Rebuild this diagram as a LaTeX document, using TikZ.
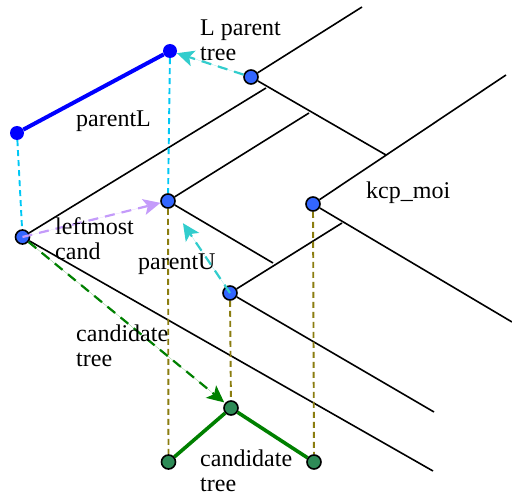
\documentclass[tikz,border=0pt]{standalone}
\usepackage{fontspec}
\setmainfont{Liberation Serif}
\usetikzlibrary{arrows.meta,backgrounds}
\definecolor{nodeblue}{RGB}{51,102,255}
\definecolor{nodegreen}{RGB}{46,139,87}
\definecolor{dkgreen}{RGB}{0,128,0}
\definecolor{olivedash}{RGB}{139,125,16}
\definecolor{skydash}{RGB}{0,200,245}
\definecolor{turq}{RGB}{50,205,205}
\definecolor{lilac}{RGB}{196,155,250}
\tikzset{
  bluept/.style={circle,fill=nodeblue,draw=black,line width=1.6pt,minimum size=14pt,inner sep=0pt},
  greenpt/.style={circle,fill=nodegreen,draw=black,line width=1.6pt,minimum size=14pt,inner sep=0pt},
  endpt/.style={circle,fill=blue,minimum size=14pt,inner sep=0pt},
  edge/.style={draw=black,line width=1.6pt},
  thickblue/.style={draw=blue,line width=4pt},
  thickgreen/.style={draw=dkgreen,line width=3.6pt},
  guide/.style={line width=1.9pt,dash pattern=on 6pt off 4pt},
  sky/.style={guide,draw=skydash},
  olv/.style={guide,draw=olivedash},
  hop/.style={line width=2.2pt,dash pattern=on 10pt off 7pt,-{Stealth[length=17pt,width=16pt,inset=4pt]}},
  lab/.style={anchor=base west,inner sep=0pt,font=\fontsize{24}{25}\selectfont}
}
\begin{document}
\begin{tikzpicture}[x=1pt,y=-1pt]
\useasboundingbox (0,0) rectangle (512,495);
% free ends
\coordinate (a1) at (362,7);
\coordinate (a2) at (386,155);
\coordinate (k1) at (506,75);
\coordinate (k2) at (512,322);
\coordinate (l1) at (266,88);
\coordinate (l2) at (433,471);
\coordinate (m1) at (309,113);
\coordinate (m2) at (273,263);
\coordinate (u1) at (342,223);
\coordinate (u2) at (434,412);
% points
\node[endpt] (P1) at (17,133) {};
\node[endpt] (P2) at (170,51) {};
\node[bluept] (A) at (251,77) {};
\node[bluept] (K) at (313,204) {};
\node[bluept] (L) at (22.5,237) {};
\node[bluept] (M) at (168,201) {};
\node[bluept] (U) at (230,293) {};
\node[greenpt] (G1) at (168.5,462) {};
\node[greenpt] (G2) at (231,408) {};
\node[greenpt] (G3) at (314,462) {};
\begin{pgfonlayer}{background}
  \draw[edge] (A) -- (a1);
  \draw[edge] (A) -- (a2);
  \draw[edge] (K) -- (k1);
  \draw[edge] (K) -- (k2);
  \draw[edge] (L) -- (l1);
  \draw[edge] (L) -- (l2);
  \draw[edge] (M) -- (m1);
  \draw[edge] (M) -- (m2);
  \draw[edge] (U) -- (u1);
  \draw[edge] (U) -- (u2);
  \draw[sky] (P1) -- (L);
  \draw[sky] (P2) -- (M);
  \draw[olv] (M) -- (G1);
  \draw[olv] (U) -- (G2);
  \draw[olv] (K) -- (G3);
  \draw[thickblue] (P1) -- (P2);
  \draw[thickgreen] (G1) -- (G2);
  \draw[thickgreen] (G2) -- (G3);
\end{pgfonlayer}
\draw[hop,draw=dkgreen,fill=dkgreen,shorten >=1pt] (L) -- (G2);
\draw[hop,draw=lilac,fill=lilac] (L.center) -- (M);
\draw[hop,draw=turq,fill=turq] (A) -- (P2);
\draw[hop,draw=turq,fill=turq,shorten >=19pt] (U.center) -- (M);
% labels
\node[lab,align=left] (t1) at (200,61) {L parent\\tree};
\node[lab] (t2) at (76,126) {parentL};
\node[lab] (t3) at (366,198) {kcp\_moi};
\node[lab,align=left] (t4) at (55,259) {leftmost\\cand};
\node[lab] (t5) at (138,269) {parentU};
\node[lab,align=left] (t6) at (76,366) {candidate\\tree};
\node[lab,align=left] (t7) at (200,491) {candidate\\tree};
\end{tikzpicture}
\end{document}
